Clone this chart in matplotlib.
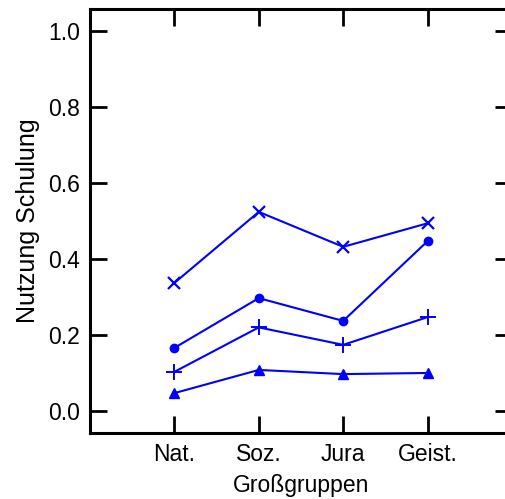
import matplotlib.pyplot as plt

plt.rcParams['font.family'] = ['Liberation Sans', 'DejaVu Sans']

groups = ['Nat.', 'Soz.', 'Jura', 'Geist.']
xpos = [1, 2, 3, 4]

# one line per series
cross = [0.337, 0.524, 0.432, 0.494]
circle = [0.166, 0.297, 0.237, 0.447]
plus = [0.103, 0.220, 0.174, 0.247]
triangle = [0.047, 0.108, 0.097, 0.100]

fig = plt.figure(figsize=(5.06, 4.99), dpi=100)
ax = fig.add_axes([90 / 506, 66 / 499, 422 / 506, 424 / 499])

blue = '#0000ff'
ax.plot(xpos, cross, color=blue, lw=1.5, marker='x', ms=8, mew=1.6)
ax.plot(xpos, circle, color=blue, lw=1.5, marker='o', ms=6)
ax.plot(xpos, plus, color=blue, lw=1.5, marker='+', ms=11, mew=1.4)
ax.plot(xpos, triangle, color=blue, lw=1.5, marker='^', ms=7.5)

ax.set_xlim(0, 5)
ax.set_ylim(-0.058, 1.058)
ax.set_xticks(xpos)
ax.set_xticklabels(groups)
ax.set_yticks([0.0, 0.2, 0.4, 0.6, 0.8, 1.0])
ax.set_yticklabels(['0.0', '0.2', '0.4', '0.6', '0.8', '1.0'])

for s in ax.spines.values():
    s.set_linewidth(2.2)
ax.tick_params(direction='in', length=12, width=2, labelsize=16.5,
               top=True, right=True)
ax.tick_params(axis='x', pad=7)
ax.tick_params(axis='y', pad=7)

ax.set_xlabel('Großgruppen', fontsize=16.5, labelpad=6)
ax.set_ylabel('Nutzung Schulung', fontsize=18, labelpad=6)

fig.savefig('out.png', dpi=100)
